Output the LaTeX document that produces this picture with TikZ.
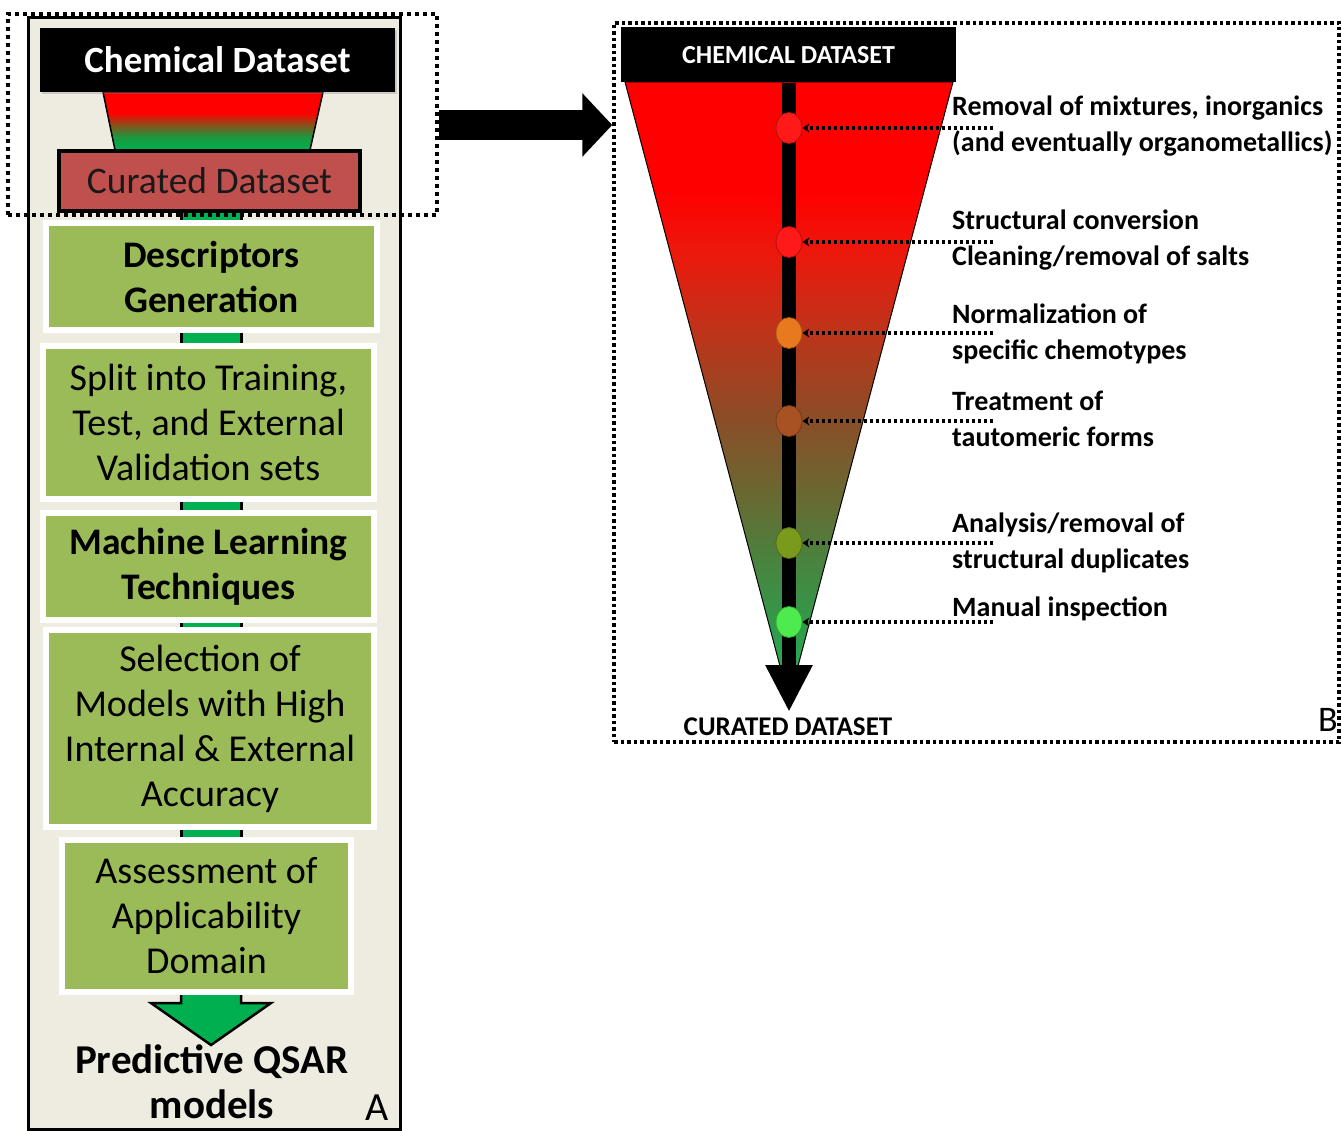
\documentclass[tikz,border=0pt]{standalone}
\usepackage{fontspec}
\setmainfont{Carlito}
\usetikzlibrary{arrows.meta,calc,shadows,shapes.geometric}
\definecolor{panelbg}{RGB}{238,236,225}
\definecolor{boxgreen}{RGB}{155,187,89}
\definecolor{curred}{RGB}{192,80,77}
\definecolor{bargreen}{RGB}{0,176,80}
\definecolor{dred}{RGB}{255,25,25}
\definecolor{dorange}{RGB}{232,121,31}
\definecolor{dbrown}{RGB}{168,82,35}
\definecolor{dolive}{RGB}{122,154,28}
\definecolor{dlgreen}{RGB}{77,235,77}
\definecolor{darktext}{RGB}{25,25,25}
\pgfdeclareverticalshading{funnelA}{100bp}{rgb(0bp)=(0,0.69,0.31); rgb(25bp)=(0,0.69,0.31); rgb(36bp)=(0.1,0.6,0.25); rgb(47bp)=(0.55,0.3,0.1); rgb(57bp)=(1,0,0); rgb(100bp)=(1,0,0)}
\pgfdeclareverticalshading{funnelB}{100bp}{rgb(0bp)=(0.15,0.7,0.35); rgb(25bp)=(0.15,0.7,0.35); rgb(30bp)=(0.18,0.62,0.3); rgb(36bp)=(0.28,0.52,0.25); rgb(41bp)=(0.4,0.42,0.2); rgb(48bp)=(0.55,0.3,0.15); rgb(55bp)=(0.75,0.2,0.1); rgb(61bp)=(0.92,0.1,0.05); rgb(66bp)=(1,0,0); rgb(100bp)=(1,0,0)}
\newcommand\gconn[2]{%
  \fill[bargreen] ($(#1.south -| cx)+(-30,0)$) rectangle ($(#2.north -| cx)+(30,0)$);
  \draw[line width=3pt] ($(#1.south -| cx)+(-30,0)$) -- ($(#2.north -| cx)+(-30,0)$)
                        ($(#1.south -| cx)+(30,0)$) -- ($(#2.north -| cx)+(30,0)$);}
\begin{document}
\begin{tikzpicture}[x=1pt,y=-1pt,
  shad/.style={drop shadow={shadow xshift=2pt,shadow yshift=-2pt,opacity=0.3}},
  gbox/.style={draw=white, line width=6pt, fill=boxgreen, align=center, inner sep=0pt, text=black, font=\fontsize{38}{45}\selectfont, shad},
  gboxb/.style={gbox, font=\fontsize{37.5}{45}\selectfont\bfseries},
  chembox/.style={fill=black, text=white, inner sep=0pt, font=\fontsize{37}{45}\selectfont\bfseries, shad},
  curbox/.style={draw=black, line width=4pt, fill=curred, text=darktext, inner sep=0pt, font=\fontsize{37.5}{45}\selectfont, shad},
  dotbox/.style={draw, inner sep=0pt},
  hdrbox/.style={fill=black, text=white, inner sep=0pt, font=\fontsize{26}{30}\selectfont\bfseries},
  dot/.style={ellipse, minimum width=26pt, minimum height=31pt, inner sep=0pt, line width=0.8pt},
  lbl/.style={anchor=west, align=left, inner sep=0pt, font=\fontsize{28}{36}\selectfont\bfseries},
  dotc/.style={line width=3.5pt, dash pattern=on 3.5pt off 2.5pt, -{Stealth[length=7pt,width=9pt]}},
  bigarrow/.style={line width=30pt, -{Triangle[length=30pt,width=62pt]}}
]
\fill[white] (0,0) rectangle (1342,1131);
\useasboundingbox (0,0) rectangle (1342,1131);

% ---------- Panel A ----------
\draw[line width=3pt, fill=panelbg] (28,18) rectangle (400,1129.5);
\coordinate (cx) at (211,0);
\shade[shading=funnelA, draw=black, line width=1.5pt] (103,92) -- (323,92) -- (310,150) -- (115,150) -- cycle;
\node[chembox, minimum width=355pt, minimum height=64pt] (chem) at (217.5,60) {Chemical Dataset};
\node[curbox, minimum width=301pt, minimum height=60pt] (cur) at (209.5,181) {Curated Dataset};

\node[gboxb, minimum width=331pt, minimum height=107pt] (b1) at (211.5,276.5) {Descriptors\\Generation};
\node[gbox, minimum width=331pt, minimum height=153pt] (b2) at (208.5,422.5) {Split into Training,\\Test, and External\\Validation sets};
\node[gboxb, minimum width=331pt, minimum height=107pt] (b3) at (208.5,566.5) {Machine Learning\\Techniques};
\node[gbox, minimum width=328pt, minimum height=197pt] (b4) at (210,728.5) {Selection of\\Models with High\\Internal \& External\\Accuracy};
\node[gbox, minimum width=289pt, minimum height=152pt] (b5) at (206.5,916) {Assessment of\\Applicability\\Domain};

\gconn{cur}{b1}
\gconn{b1}{b2}
\gconn{b2}{b3}
\gconn{b3}{b4}
\gconn{b4}{b5}

\coordinate (atip) at (211,1045);
\draw[fill=bargreen, line width=2.5pt, line join=miter]
  ($(b5.south -| cx)+(-30,0)$) -- ++(0,8) -- ++(-30,0) -- (atip)
  -- ($(b5.south -| cx)+(60,8)$) -- ++(-30,0) -- ++(0,-8);
\node[inner sep=0pt, align=center, font=\fontsize{41}{45}\selectfont\bfseries] (pred) at (212,1082) {Predictive QSAR\\models};
\node[inner sep=0pt, font=\fontsize{40}{48}\selectfont] (labA) at (377,1108) {A};

\node[dotbox, line width=4pt, dash pattern=on 4pt off 4pt, minimum width=429pt, minimum height=201pt] (dotA) at (222.5,114.5) {};

% ---------- Panel B ----------
\node[dotbox, line width=3.5pt, dash pattern=on 3.5pt off 3pt, minimum width=725pt, minimum height=719pt] (dotB) at (976.5,382.5) {};
\coordinate (ay) at (0,125);
\draw[bigarrow] (dotA.east |- ay) -- (dotB.west |- ay);

\shade[shading=funnelB, draw=black, line width=1pt] (625,82) -- (953,82) -- (789,700) -- cycle;
\node[hdrbox, minimum width=335pt, minimum height=55pt] (hdr) at (788.5,55) {CHEMICAL DATASET};
\coordinate (tip) at (789,712);
\draw[line width=14pt, -{Triangle[length=47pt,width=44pt]}] (hdr.south -| tip) -- (tip);
\node[inner sep=0pt, font=\fontsize{27}{30}\selectfont\bfseries] (cd) at (788,727) {CURATED DATASET};

\node[dot, fill=dred, draw=dred!70!black] (s1) at (789,128) {};
\node[dot, fill=dred, draw=dred!70!black] (s2) at (789,242) {};
\node[dot, fill=dorange, draw=dorange!70!black] (s3) at (789,333) {};
\node[dot, fill=dbrown, draw=dbrown!70!black] (s4) at (789,421) {};
\node[dot, fill=dolive, draw=dolive!70!black] (s5) at (789,543) {};
\node[dot, fill=dlgreen, draw=dlgreen!70!black] (s6) at (789,622) {};

\node[lbl] (l1) at (952,126) {Removal of mixtures, inorganics\\(and eventually organometallics)};
\node[lbl] (l2) at (952,240) {Structural conversion\\Cleaning/removal of salts};
\node[lbl] (l3) at (952,333.5) {Normalization of\\specific chemotypes};
\node[lbl] (l4) at (952,418.5) {Treatment of\\tautomeric forms};
\node[lbl] (l5) at (952,543) {Analysis/removal of\\structural duplicates};
\node[lbl] (l6) at (952,609) {Manual inspection};

\coordinate (dx) at (993,0);
\foreach \i in {1,...,6} {\draw[dotc] (s\i -| dx) -- (s\i);}

\node[inner sep=0pt, font=\fontsize{36}{44}\selectfont] (labB) at (1328,720) {B};
\end{tikzpicture}
\end{document}
